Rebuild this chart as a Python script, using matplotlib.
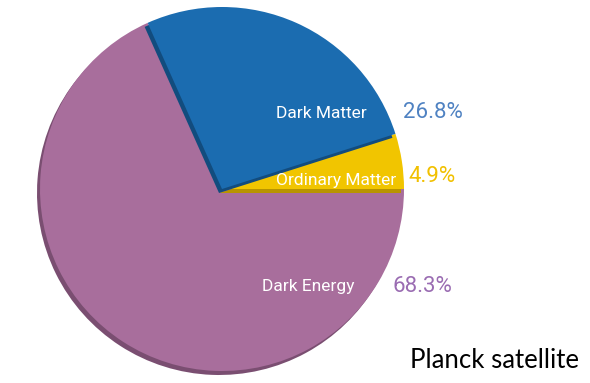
import matplotlib.pyplot as plt

# Planck satellite energy budget of the universe
labels = ["Ordinary Matter", "Dark Matter", "Dark Energy"]
shares = [4.9, 26.8, 68.3]
pct_text = ["4.9%", "26.8%", "68.3%"]
colors = ["#f1c500", "#1b6cb0", "#a86e9c"]
shadow_colors = ["#b89400", "#124c7e", "#7a4e71"]
pct_colors = ["#f1c000", "#4f82c2", "#9a6cb2"]

W, H = 590, 383
fig = plt.figure(figsize=(W / 100, H / 100), dpi=100)
ax = fig.add_axes([0, 0, 1, 1])

cx, cy, r = 222, H - 189, 182
shift = (-3, -4)

# draw back to front: dark energy, ordinary matter, dark matter
for i in [2, 0, 1]:
    for sh, cols in [(True, shadow_colors), (False, colors)]:
        c = (cx + shift[0], cy + shift[1]) if sh else (cx, cy)
        wedges, _ = ax.pie(shares, colors=cols, startangle=0, counterclock=True,
                           radius=r, center=c, frame=True,
                           wedgeprops=dict(linewidth=0))
        for j, w in enumerate(wedges):
            w.set_visible(j == i)

ax.set_xlim(0, W)
ax.set_ylim(0, H)
ax.set_aspect("equal")
ax.axis("off")

font = "Roboto"
# slice names (white) and percentages
name_pos = [(336, 180), (321, 113), (308, 287)]
pct_pos = [(408, 177), (403, 112), (392, 287)]
for i in range(3):
    ax.text(name_pos[i][0], H - name_pos[i][1], labels[i], color="white",
            ha="center", va="center", fontsize=12.5, family=font)
    ax.text(pct_pos[i][0], H - pct_pos[i][1], pct_text[i], color=pct_colors[i],
            ha="left", va="center", fontsize=16, family=font)

ax.text(579, H - 360, "Planck satellite", color="black", ha="right",
        va="center", fontsize=18.5, family="Lato")

fig.savefig("out.png", dpi=100)
